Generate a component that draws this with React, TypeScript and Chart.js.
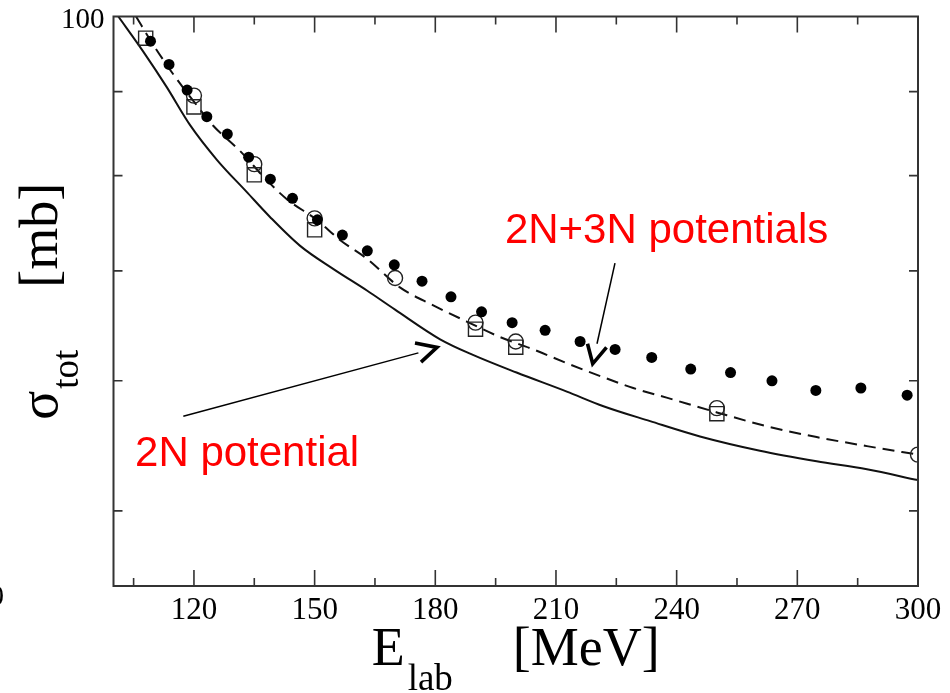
import React, { useEffect, useRef } from "react";
import { Chart, registerables } from "chart.js";

Chart.register(...registerables);

// ---- data (E_lab in MeV, sigma_tot in mb) ----
const solidE = [101.2, 107.4, 113.2, 119.0, 125.7, 133.1, 138.9, 146.4, 154.6, 163.0, 170.0, 181.2, 189.5, 200.2, 212.7, 221.8, 233.4, 245.8, 260.7, 274.8, 287.3, 300];
const solidSigma = [100.0, 95.2, 90.6, 85.9, 81.8, 78.2, 75.5, 72.5, 70.2, 68.1, 66.3, 63.6, 62.2, 60.7, 59.1, 57.9, 56.7, 55.5, 54.4, 53.6, 53.0, 52.2];

const dashedE = [105.6, 109.9, 115.3, 120.7, 124.8, 131.5, 138.1, 143.1, 150.5, 156.3, 163.0, 171.2, 179.5, 187.8, 196.1, 204.4, 212.7, 221.0, 229.2, 237.5, 250.0, 262.4, 274.8, 287.3, 300];
const dashedSigma = [100.0, 96.1, 91.9, 88.3, 85.8, 82.8, 79.5, 77.4, 75.2, 73.1, 71.2, 68.4, 66.7, 65.2, 63.8, 62.7, 61.5, 60.4, 59.4, 58.6, 57.4, 56.3, 55.45, 54.75, 54.1];

const filledE = [109.2, 113.8, 118.3, 123.2, 128.3, 133.6, 139.0, 144.5, 150.7, 156.9, 163.1, 169.8, 176.7, 183.9, 191.5, 199.1, 207.3, 216.0, 224.7, 233.8, 243.5, 253.4, 263.7, 274.6, 285.8, 297.3];
const filledSigma = [96.6, 93.5, 90.2, 86.9, 84.8, 82.1, 79.6, 77.5, 75.2, 73.6, 72.0, 70.6, 69.0, 67.5, 66.1, 65.1, 64.4, 63.4, 62.7, 62.0, 61.0, 60.7, 60.0, 59.2, 59.4, 58.8];

const openCircleE = [120, 135, 150, 170, 190, 200, 250, 300];
const openCircleSigma = [89.5, 81.3, 75.35, 69.3, 65.1, 63.4, 57.75, 54.1];

const squareE = [108, 120, 135, 150, 190, 200, 250];
const squareSigma = [97.0, 88.1, 80.1, 74.15, 64.5, 62.9, 57.3];

// ---- axes ----
const xMin = 100;
const xMax = 300;
const yMin = 45;
const yMax = 100;
const xMajorTicks = [120, 150, 180, 210, 240, 270, 300];
const xMinorTicks = [105, 135, 165, 195, 225, 255, 285];
const xTickLabels = ["120", "150", "180", "210", "240", "270", "300"];
const yMinorTicks = [50, 60, 70, 80, 90];
const yLabelValues = [100];
const yTickLabels = ["100"];

// ---- annotations (data coordinates) ----
const label3N = "2N+3N potentials";
const label3NPos = [197.3, 72.8];
const label2N = "2N potential";
const label2NPos = [105.35, 53.25];
const arrow1Line = [[117.35, 57.1], [175.8, 62.4]];
const arrow1Head = [[174.95, 63.26], [180.42, 62.88], [176.45, 61.6]];
const arrow2Line = [[224.67, 70.77], [220.2, 63.2]];
const arrow2Head = [[217.84, 63.2], [219.13, 61.45], [222.56, 62.88]];

const SERIF = '"Liberation Serif", "Times New Roman", serif';
const SANS = '"Liberation Sans", Arial, sans-serif';
const AXIS = "#333333";

const toPts = (xs: number[], ys: number[]) => xs.map((x, i) => ({ x, y: ys[i] }));

const decorPlugin = {
  id: "decor",
  afterDatasetsDraw(chart: any) {
    const { ctx, chartArea: a, scales } = chart;
    const xs = scales.x;
    const ys = scales.y;
    const px = (v: number) => xs.getPixelForValue(v);
    const py = (v: number) => ys.getPixelForValue(v);

    ctx.save();
    // ticks
    ctx.strokeStyle = AXIS;
    ctx.lineWidth = 1.6;
    ctx.beginPath();
    for (const v of xMajorTicks) {
      const p = px(v);
      ctx.moveTo(p, a.bottom); ctx.lineTo(p, a.bottom - 16);
      ctx.moveTo(p, a.top); ctx.lineTo(p, a.top + 16);
    }
    for (const v of xMinorTicks) {
      const p = px(v);
      ctx.moveTo(p, a.bottom); ctx.lineTo(p, a.bottom - 8);
      ctx.moveTo(p, a.top); ctx.lineTo(p, a.top + 8);
    }
    for (const v of yMinorTicks) {
      const p = py(v);
      ctx.moveTo(a.left, p); ctx.lineTo(a.left + 9, p);
      ctx.moveTo(a.right, p); ctx.lineTo(a.right - 9, p);
    }
    ctx.stroke();

    // frame
    ctx.lineWidth = 2;
    ctx.strokeRect(a.left, a.top, a.right - a.left, a.bottom - a.top);

    // tick labels
    ctx.fillStyle = "#000";
    ctx.font = `31px ${SERIF}`;
    ctx.textAlign = "center";
    ctx.textBaseline = "alphabetic";
    xMajorTicks.forEach((v, i) => ctx.fillText(xTickLabels[i], px(v), a.bottom + 33));
    ctx.font = `29px ${SERIF}`;
    ctx.textAlign = "right";
    yLabelValues.forEach((v, i) => ctx.fillText(yTickLabels[i], a.left - 9, py(v) + 11));
    // clipped label fragment at the far left
    ctx.fillText("0", 4, a.bottom + 19);

    // x title: E_lab   [MeV]
    const big = `54px ${SERIF}`;
    const sub = `37px ${SERIF}`;
    ctx.textAlign = "left";
    ctx.font = big;
    const wE = ctx.measureText("E").width;
    const wM = ctx.measureText("[MeV]").width;
    ctx.font = sub;
    const wl = ctx.measureText("lab").width;
    const gapX = 60;
    const totalX = wE + 3 + wl + gapX + wM;
    let sx = (a.left + a.right) / 2 - totalX / 2;
    const by = 665;
    ctx.font = big; ctx.fillText("E", sx, by);
    sx += wE + 3;
    ctx.font = sub; ctx.fillText("lab", sx, by + 25);
    sx += wl + gapX;
    ctx.font = big; ctx.fillText("[MeV]", sx, by);

    // y title: sigma_tot   [mb]
    ctx.save();
    ctx.translate(57, (a.top + a.bottom) / 2);
    ctx.rotate(-Math.PI / 2);
    ctx.font = big;
    const wS = ctx.measureText("σ").width;
    const wmb = ctx.measureText("[mb]").width;
    ctx.font = sub;
    const wt = ctx.measureText("tot").width;
    const gapY = 62;
    const totalY = wS + 2 + wt + gapY + wmb;
    let sy = -totalY / 2;
    ctx.font = big; ctx.fillText("σ", sy, 0);
    sy += wS + 2;
    ctx.font = sub; ctx.fillText("tot", sy, 21);
    sy += wt + gapY;
    ctx.font = big; ctx.fillText("[mb]", sy, 0);
    ctx.restore();

    // annotations
    ctx.fillStyle = "#ff0000";
    ctx.font = `42px ${SANS}`;
    ctx.textAlign = "left";
    ctx.fillText(label3N, px(label3NPos[0]), py(label3NPos[1]));
    ctx.fillText(label2N, px(label2NPos[0]), py(label2NPos[1]));

    const poly = (pts: number[][], w: number) => {
      ctx.lineWidth = w;
      ctx.beginPath();
      pts.forEach((p, i) => (i ? ctx.lineTo(px(p[0]), py(p[1])) : ctx.moveTo(px(p[0]), py(p[1]))));
      ctx.stroke();
    };
    ctx.strokeStyle = "#000";
    ctx.lineJoin = "miter";
    poly(arrow1Line, 1.5);
    poly(arrow2Line, 1.5);
    poly(arrow1Head, 3.6);
    poly(arrow2Head, 3.6);
    ctx.restore();
  },
};

export default function App() {
  const ref = useRef<HTMLCanvasElement>(null);
  useEffect(() => {
    const canvas = ref.current;
    if (!canvas) return;
    const chart = new Chart(canvas, {
      type: "scatter",
      data: {
        datasets: [
          {
            label: "filled",
            data: toPts(filledE, filledSigma),
            showLine: false,
            pointStyle: "circle",
            pointRadius: 5.5,
            pointBackgroundColor: "#000",
            pointBorderColor: "#000",
            pointBorderWidth: 0,
            order: 1,
          },
          {
            label: "open circles",
            data: toPts(openCircleE, openCircleSigma),
            showLine: false,
            pointStyle: "circle",
            pointRadius: 7.5,
            pointBackgroundColor: "rgba(0,0,0,0)",
            pointBorderColor: "#222",
            pointBorderWidth: 1.4,
            order: 2,
          },
          {
            label: "squares",
            data: toPts(squareE, squareSigma),
            showLine: false,
            pointStyle: "rect",
            pointRadius: 10,
            pointBackgroundColor: "rgba(0,0,0,0)",
            pointBorderColor: "#222",
            pointBorderWidth: 1.4,
            order: 3,
          },
          {
            label: "2N+3N",
            data: toPts(dashedE, dashedSigma),
            showLine: true,
            pointRadius: 0,
            borderColor: "#111",
            borderWidth: 2,
            borderDash: [12, 7],
            cubicInterpolationMode: "monotone",
            order: 4,
          },
          {
            label: "2N",
            data: toPts(solidE, solidSigma),
            showLine: true,
            pointRadius: 0,
            borderColor: "#111",
            borderWidth: 2,
            cubicInterpolationMode: "monotone",
            order: 5,
          },
        ],
      },
      options: {
        responsive: false,
        animation: false,
        devicePixelRatio: 1,
        layout: { padding: { left: 113.5, right: 32, top: 16.5, bottom: 107 } },
        scales: {
          x: { type: "linear", min: xMin, max: xMax, display: false },
          y: { type: "logarithmic", min: yMin, max: yMax, display: false },
        },
        plugins: { legend: { display: false }, tooltip: { enabled: false } },
        events: [],
      },
      plugins: [decorPlugin],
    } as any);
    return () => chart.destroy();
  }, []);
  return (
    <div style={{ position: "absolute", left: 0, top: 0, width: 950, height: 693, background: "#fff" }}>
      <canvas ref={ref} width={950} height={693} style={{ display: "block" }} />
    </div>
  );
}
